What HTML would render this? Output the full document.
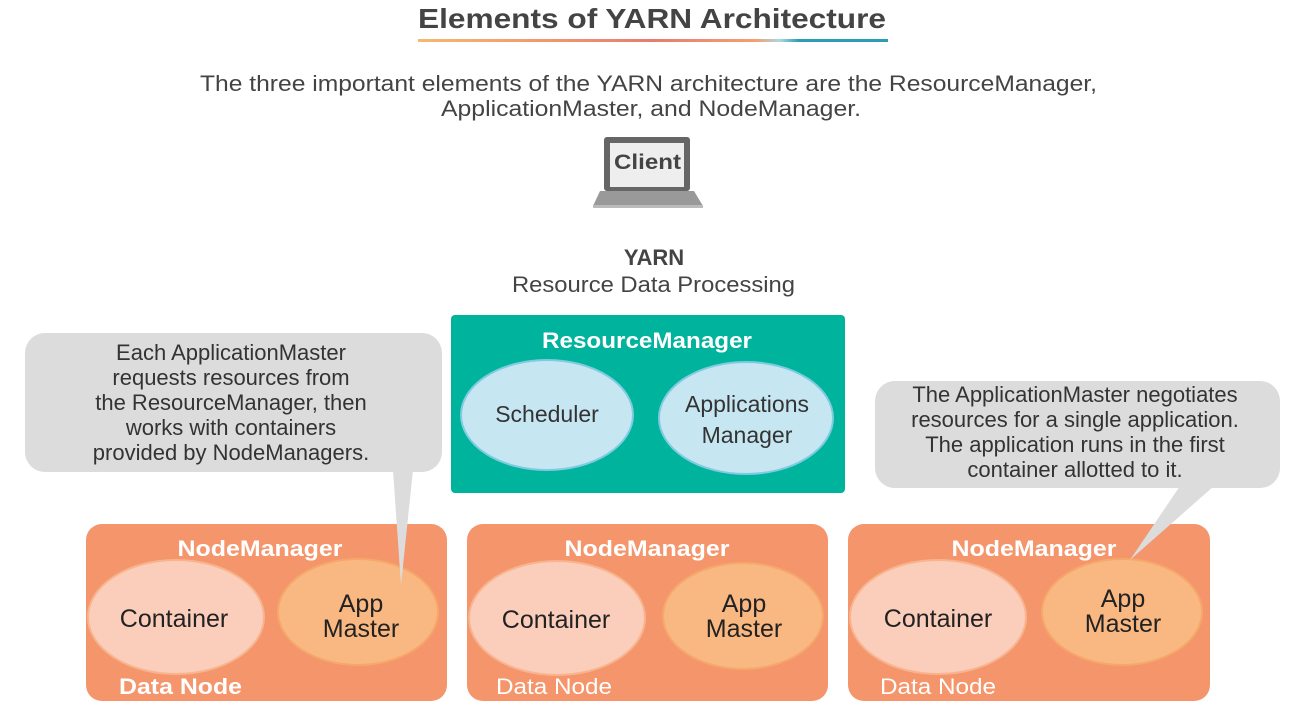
<!DOCTYPE html>
<html><head><meta charset="utf-8"><style>
html,body{margin:0;padding:0;background:#fff;width:1294px;height:727px;overflow:hidden}
svg{display:block;font-family:"Liberation Sans",sans-serif}
</style></head><body>
<svg width="1294" height="727" viewBox="0 0 1294 727">
<defs>
<linearGradient id="ul" x1="0" x2="1">
<stop offset="0" stop-color="#f5b971"/><stop offset="0.25" stop-color="#f29a6d"/>
<stop offset="0.5" stop-color="#e97b6e"/><stop offset="0.72" stop-color="#f4a070"/>
<stop offset="0.77" stop-color="#a7d9e3"/><stop offset="0.81" stop-color="#2c9db3"/><stop offset="1" stop-color="#2c9db3"/>
</linearGradient>
</defs>
<text x="418" y="28" font-size="28" font-weight="bold" fill="#444" textLength="468" lengthAdjust="spacingAndGlyphs">Elements of YARN Architecture</text>
<rect x="418" y="39" width="470" height="3" fill="url(#ul)"/>
<text x="200" y="91" font-size="22" fill="#444" textLength="897" lengthAdjust="spacingAndGlyphs">The three important elements of the YARN architecture are the ResourceManager,</text>
<text x="441" y="116" font-size="22" fill="#444" textLength="420" lengthAdjust="spacingAndGlyphs">ApplicationMaster, and NodeManager.</text>
<!-- laptop -->
<rect x="604" y="137" width="86" height="54" rx="3" fill="#666"/>
<rect x="610" y="143" width="74" height="44" fill="#eee"/>
<text x="614" y="169" font-size="21" font-weight="bold" fill="#444" textLength="67" lengthAdjust="spacingAndGlyphs">Client</text>
<polygon points="600,191 694,191 703,206 593,206" fill="#999"/>
<rect x="593" y="205" width="110" height="3" fill="#bbb"/>
<text x="654" y="265" text-anchor="middle" font-size="22" font-weight="bold" fill="#444">YARN</text>
<text x="512" y="292" font-size="22" fill="#444" textLength="283" lengthAdjust="spacingAndGlyphs">Resource Data Processing</text>
<!-- RM -->
<rect x="451" y="315" width="394" height="178" rx="4" fill="#00b39c"/>
<text x="542" y="348" font-size="22" font-weight="bold" fill="#fff" textLength="210" lengthAdjust="spacingAndGlyphs">ResourceManager</text>
<ellipse cx="547" cy="415" rx="86" ry="55" fill="#c6e6f1" stroke="#7fcbe0" stroke-width="2"/>
<ellipse cx="746" cy="418" rx="87" ry="56" fill="#c6e6f1" stroke="#7fcbe0" stroke-width="2"/>
<text x="547" y="422" text-anchor="middle" font-size="23" fill="#333">Scheduler</text>
<text x="747" y="412" text-anchor="middle" font-size="23" fill="#333">Applications</text>
<text x="747" y="443" text-anchor="middle" font-size="23" fill="#333">Manager</text>
<!-- node managers -->
<g>
<rect x="86" y="524" width="361" height="177" rx="16" fill="#f4956b"/>
<rect x="467" y="524" width="361" height="177" rx="16" fill="#f4956b"/>
<rect x="848" y="524" width="362" height="177" rx="16" fill="#f4956b"/>
<g font-size="22" font-weight="bold" fill="#fff" text-anchor="middle">
<text x="260" y="556" textLength="165" lengthAdjust="spacingAndGlyphs">NodeManager</text><text x="647" y="556" textLength="165" lengthAdjust="spacingAndGlyphs">NodeManager</text><text x="1034" y="556" textLength="165" lengthAdjust="spacingAndGlyphs">NodeManager</text>
</g>
<g fill="#fbcdbb" stroke="#f8b48e" stroke-width="2">
<ellipse cx="176" cy="617" rx="88" ry="57"/><ellipse cx="557" cy="618" rx="88" ry="57"/><ellipse cx="938" cy="617" rx="88" ry="57"/>
</g>
<g fill="#f9b882" stroke="#f6a86a" stroke-width="2">
<ellipse cx="358" cy="612" rx="80" ry="53"/><ellipse cx="743" cy="616" rx="80" ry="53"/><ellipse cx="1122" cy="612" rx="80" ry="53"/>
</g>
<g font-size="25" fill="#222" text-anchor="middle">
<text x="174" y="627">Container</text><text x="556" y="628">Container</text><text x="938" y="627">Container</text>
<text x="361" y="612">App</text><text x="361" y="637">Master</text>
<text x="744" y="612">App</text><text x="744" y="637">Master</text>
<text x="1123" y="607">App</text><text x="1123" y="632">Master</text>
</g>
<text x="119" y="694" font-size="22" font-weight="bold" fill="#fff" textLength="123" lengthAdjust="spacingAndGlyphs">Data Node</text>
<text x="496" y="694" font-size="22" fill="#fff" textLength="116" lengthAdjust="spacingAndGlyphs">Data Node</text>
<text x="880" y="694" font-size="22" fill="#fff" textLength="116" lengthAdjust="spacingAndGlyphs">Data Node</text>
</g>
<!-- callouts -->
<rect x="25" y="333" width="417" height="139" rx="20" fill="#dcdcdc"/>
<polygon points="393,470 413,470 401,585" fill="#dcdcdc"/>
<g font-size="22" fill="#333" text-anchor="middle">
<text x="231" y="360">Each ApplicationMaster</text>
<text x="231" y="385">requests resources from</text>
<text x="231" y="410">the ResourceManager, then</text>
<text x="231" y="435">works with containers</text>
<text x="231" y="460">provided by NodeManagers.</text>
</g>
<rect x="875" y="381" width="405" height="107" rx="20" fill="#dcdcdc"/>
<polygon points="1180,486 1214,486 1130,560" fill="#dcdcdc"/>
<g font-size="22" fill="#333" text-anchor="middle">
<text x="1075" y="402">The ApplicationMaster negotiates</text>
<text x="1075" y="427">resources for a single application.</text>
<text x="1075" y="452">The application runs in the first</text>
<text x="1075" y="477">container allotted to it.</text>
</g>
</svg>
</body></html>
